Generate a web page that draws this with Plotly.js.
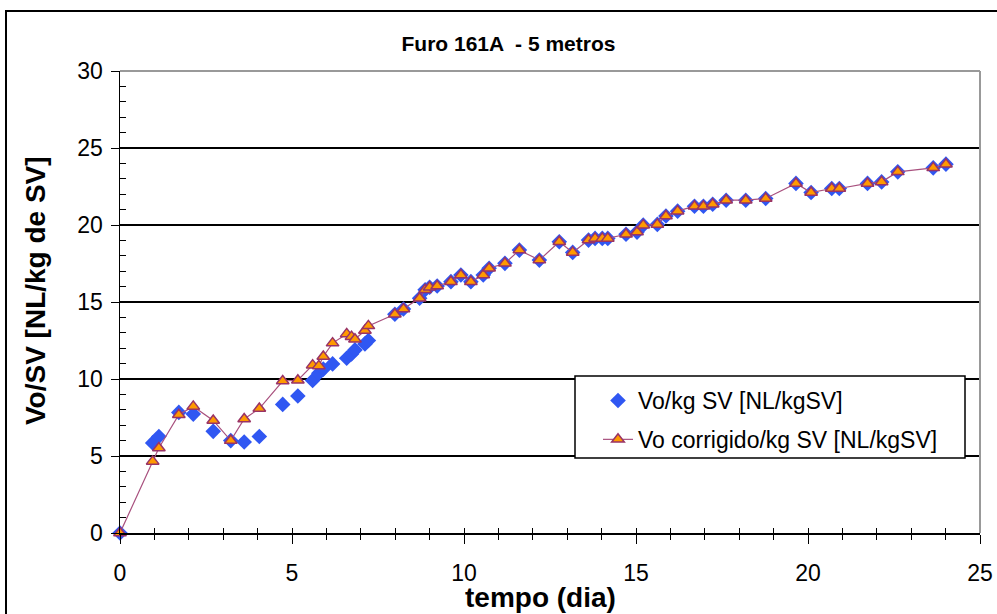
<!DOCTYPE html>
<html>
<head>
<meta charset="utf-8">
<script src="https://cdn.plot.ly/plotly-3.0.1.min.js"></script>
<style>html,body{margin:0;padding:0;background:#fff;}#chart{width:997px;height:614px;}</style>
</head>
<body>
<div id="chart"></div>
<script>
// tempo (dia)
const days = [0, 0.95, 1.13, 1.71, 2.13, 2.71, 3.22, 3.61, 4.05, 4.73, 5.17, 5.6, 5.78, 5.91, 6.18, 6.59, 6.73, 6.83, 7.12, 7.22,
  7.99, 8.24, 8.71, 8.87, 9.0, 9.22, 9.62, 9.91, 10.2, 10.56, 10.73, 11.19, 11.61, 12.19, 12.77, 13.16, 13.62, 13.81, 14.02, 14.18,
  14.71, 15.03, 15.21, 15.62, 15.87, 16.21, 16.7, 16.96, 17.23, 17.62, 18.19, 18.77, 19.65, 20.09, 20.69, 20.91, 21.73, 22.14, 22.61, 23.64, 24.01];
// Vo/kg SV [NL/kgSV]
const voKgSV = [0, 5.85, 6.27, 7.83, 7.72, 6.6, 6.0, 5.91, 6.27, 8.35, 8.9, 9.9, 10.38, 10.64, 10.98, 11.35, 11.63, 11.89, 12.28, 12.5,
  14.2, 14.55, 15.24, 15.8, 15.96, 16.04, 16.32, 16.75, 16.32, 16.75, 17.19, 17.51, 18.37, 17.72, 18.91, 18.22, 19.02, 19.13, 19.13, 19.13,
  19.4, 19.54, 19.99, 20.04, 20.58, 20.9, 21.22, 21.22, 21.35, 21.61, 21.61, 21.72, 22.7, 22.11, 22.37, 22.37, 22.7, 22.8, 23.45, 23.71, 23.95];
// Vo corrigido/kg SV [NL/kgSV]
const voCorrigido = [0, 4.65, 5.52, 7.68, 8.22, 7.31, 6.0, 7.4, 8.08, 9.87, 9.92, 10.9, 10.85, 11.46, 12.33, 12.93, 12.75, 12.58, 13.15, 13.45,
  14.2, 14.55, 15.24, 15.8, 15.96, 16.04, 16.32, 16.75, 16.32, 16.75, 17.19, 17.51, 18.37, 17.72, 18.91, 18.22, 19.02, 19.13, 19.13, 19.13,
  19.4, 19.54, 19.99, 20.04, 20.58, 20.9, 21.22, 21.22, 21.35, 21.61, 21.61, 21.72, 22.7, 22.11, 22.37, 22.37, 22.7, 22.8, 23.45, 23.71, 23.95];

const seriesNames = ['Vo/kg SV [NL/kgSV]', 'Vo corrigido/kg SV [NL/kgSV]'];
const chartTitle = 'Furo 161A  - 5 metros';
const xTitle = 'tempo (dia)';
const yTitle = 'Vo/SV [NL/kg de SV]';

const FONT = 'Liberation Sans, Arial, sans-serif';

const traces = [
  {
    x: days, y: voKgSV, name: seriesNames[0], type: 'scatter', mode: 'markers',
    legendgroup: 'a', cliponaxis: false,
    marker: {symbol: 'diamond', size: 12, color: '#3057F2', line: {width: 0}}
  },
  {
    x: days, y: voCorrigido, name: seriesNames[1], type: 'scatter', mode: 'lines+markers',
    legendgroup: 'b', cliponaxis: false,
    line: {color: '#A8507E', width: 1.2},
    marker: {symbol: 'triangle-up', size: 11, color: '#FF9A00', line: {color: '#993366', width: 1.5}}
  },
  { x: [], y: [], xaxis: 'x2', showlegend: false, hoverinfo: 'skip', type: 'scatter', mode: 'markers' }
];

const PW = 860, PH = 462;
function px2x(p) { return (p - 120) / PW; }
function py2y(p) { return (533 - p) / PH; }

const layout = {
  width: 997, height: 614,
  margin: {l: 120, r: 17, t: 71, b: 81},
  paper_bgcolor: '#ffffff', plot_bgcolor: '#ffffff',
  font: {family: FONT, color: '#000', size: 18},
  title: {
    text: '<b>' + chartTitle + '</b>',
    font: {family: FONT, size: 21, color: '#000'},
    x: 0.51, xref: 'container', xanchor: 'center',
    y: 1 - 44 / 614, yref: 'container', yanchor: 'middle'
  },
  showlegend: true,
  legend: {
    x: px2x(598), y: py2y(379), xanchor: 'left', yanchor: 'top',
    bgcolor: 'rgba(0,0,0,0)', borderwidth: 0,
    font: {family: FONT, size: 23, color: '#000'},
    traceorder: 'grouped', tracegroupgap: 6
  },
  xaxis: {
    range: [0, 25], tick0: 0, dtick: 5, ticks: 'outside', ticklen: 9, tickcolor: '#000', tickwidth: 1,
    showline: true, linecolor: '#000', linewidth: 1.5, showgrid: false, zeroline: false,
    tickfont: {family: FONT, size: 23, color: '#000'}, ticklabelstandoff: 10,
    minor: {dtick: 1, ticks: 'outside', ticklen: 5, tickcolor: '#000', showgrid: false},
    fixedrange: true
  },
  xaxis2: {
    range: [0, 25], overlaying: 'x', anchor: 'y', side: 'bottom', tick0: 0, dtick: 1,
    ticks: 'inside', ticklen: 5, tickcolor: '#000', showticklabels: false, showgrid: false,
    showline: false, zeroline: false, fixedrange: true
  },
  yaxis: {
    range: [0, 30], tick0: 0, dtick: 5, ticks: 'outside', ticklen: 8, tickcolor: '#000', tickwidth: 1,
    showline: true, linecolor: '#000', linewidth: 1.5, showgrid: true, gridcolor: '#000', gridwidth: 1.2, zeroline: false,
    tickfont: {family: FONT, size: 23, color: '#000'}, ticklabelstandoff: 3,
    minor: {dtick: 1, ticks: 'inside', ticklen: 6, tickcolor: '#000', showgrid: false},
    fixedrange: true
  },
  annotations: [
    {text: '<b>' + xTitle + '</b>', xref: 'paper', yref: 'paper', x: px2x(540), y: py2y(597),
      xanchor: 'center', yanchor: 'middle', showarrow: false, font: {family: FONT, size: 28, color: '#000'}},
    {text: '<b>' + yTitle + '</b>', xref: 'paper', yref: 'paper', x: px2x(35), y: py2y(291),
      xanchor: 'center', yanchor: 'middle', showarrow: false, textangle: -90, font: {family: FONT, size: 28, color: '#000'}}
  ],
  shapes: [
    // outer chart border
    {type: 'rect', xref: 'paper', yref: 'paper', x0: px2x(6), x1: px2x(1005), y0: py2y(625), y1: py2y(11),
      line: {color: '#000', width: 2}, fillcolor: 'rgba(0,0,0,0)', layer: 'below'},
    // grey plot frame top and right
    {type: 'line', xref: 'paper', yref: 'paper', x0: 0, x1: 1, y0: 1, y1: 1, line: {color: '#999', width: 2}, layer: 'above'},
    {type: 'line', xref: 'paper', yref: 'paper', x0: 1, x1: 1, y0: 0, y1: 1, line: {color: '#999', width: 2}, layer: 'above'},
    // legend box
    {type: 'rect', xref: 'paper', yref: 'paper', x0: px2x(575), x1: px2x(965), y0: py2y(458), y1: py2y(376),
      line: {color: '#000', width: 1.5}, fillcolor: '#fff', layer: 'above'}
  ]
};

Plotly.newPlot('chart', traces, layout, {displayModeBar: false, staticPlot: true});
</script>
</body>
</html>
